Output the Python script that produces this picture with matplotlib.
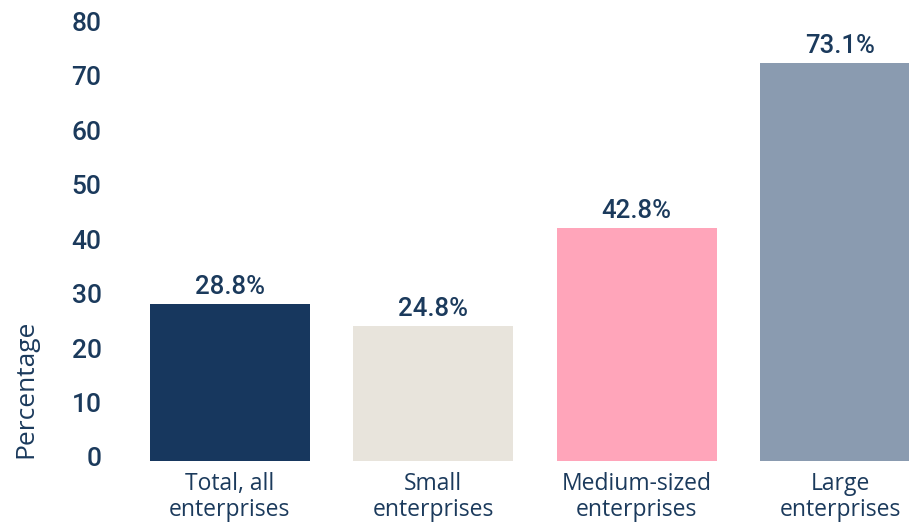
import matplotlib
matplotlib.use("Agg")
import matplotlib.pyplot as plt
from matplotlib.transforms import ScaledTranslation

categories = ["Total, all\nenterprises", "Small\nenterprises", "Medium-sized\nenterprises", "Large\nenterprises"]
values = [28.8, 24.8, 42.8, 73.1]
value_labels = ["28.8%", "24.8%", "42.8%", "73.1%"]
colors = ["#17375E", "#E8E4DC", "#FFA5BA", "#8A9BB0"]
yticks = [0, 10, 20, 30, 40, 50, 60, 70, 80]

navy = "#1B3A5C"
W, H = 909, 525
fig = plt.figure(figsize=(W / 100, H / 100), dpi=100)
ax = fig.add_axes([128 / W, 64 / H, (942 - 128) / W, 435.5 / H])

x = list(range(len(values)))
ax.bar(x, values, width=0.786, color=colors)
ax.set_xlim(-0.5, 3.5)
ax.set_ylim(0, 80)
ax.set_yticks(yticks)
ax.set_yticklabels([str(t) for t in yticks], fontfamily="Roboto", fontweight="medium",
                   fontsize=19, color=navy)
ax.set_xticks(x)
ax.set_xticklabels(categories, fontfamily="Open Sans", fontsize=16.5, color=navy, linespacing=1.1)
ax.tick_params(axis="y", length=0, pad=19)
ax.tick_params(axis="x", length=0, pad=8)
for s in ax.spines.values():
    s.set_visible(False)

shift = ScaledTranslation(0, 4 / 100, fig.dpi_scale_trans)
for lbl in ax.get_yticklabels():
    lbl.set_transform(lbl.get_transform() + shift)

for xi, v, lab in zip(x, values, value_labels):
    ax.annotate(lab, (xi, v), xytext=(0, 7.5), textcoords="offset points",
                ha="center", va="baseline", fontfamily="Roboto",
                fontsize=18.5, color=navy, fontweight="medium")

fig.text(26 / W, 1 - 388.5 / H, "Percentage", rotation=90, ha="center", va="center",
         fontfamily="Open Sans", fontsize=19, color=navy)

fig.savefig("out.png", dpi=100)
